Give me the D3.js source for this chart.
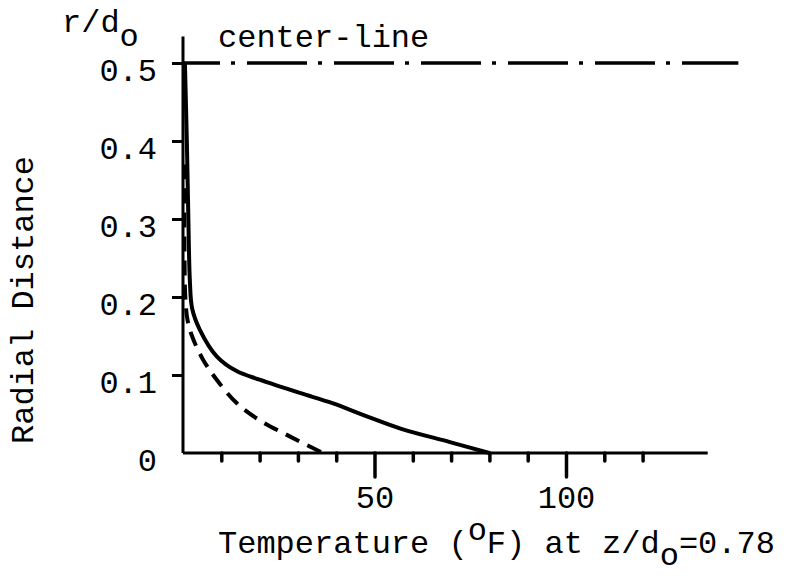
<!DOCTYPE html>
<html>
<head>
<meta charset="utf-8">
<script src="https://cdn.jsdelivr.net/npm/d3@7"></script>
<style>
  body { margin: 0; background: #fff; }
  text { font-family: "Liberation Mono", "DejaVu Sans Mono", monospace; fill: #000; }
</style>
</head>
<body>
<div id="chart"></div>
<script>
// temperature profile: radial distance r/d0 vs temperature (F)
const solidTemp   = [0.5, 1.0, 1.4, 1.8, 2.4, 4.4, 8.8, 14, 20, 30.5, 39, 48, 57, 69.7, 80];
const solidRadius = [0.5, 0.4, 0.3, 0.22, 0.185, 0.158, 0.124, 0.105, 0.094, 0.077, 0.064, 0.047, 0.031, 0.014, 0];

const dashTemp   = [0.3, 0.4, 0.6, 1.2, 2.5, 5.2, 8.8, 14, 20, 28, 36.5];
const dashRadius = [0.37, 0.25, 0.2, 0.17, 0.148, 0.12, 0.094, 0.064, 0.042, 0.021, 0];

const centerLine = 0.5;
const xMinorTicks = [10, 20, 30, 40, 60, 70, 80, 90, 110, 120];
const xMajorTicks = [50, 100];
const yTicks = [0, 0.1, 0.2, 0.3, 0.4, 0.5];

const width = 786, height = 576;
// plot box in pixels (origin of axes, 100F, 0.5 r/d0)
const margin = {left: 183, bottom: 453, top: 63};

let svg = d3.select("#chart")
  .append("svg")
    .attr("width", width)
    .attr("height", height);

let x = d3.scaleLinear()
  .domain([0, 100])
  .range([margin.left, 566]);

let y = d3.scaleLinear()
  .domain([0, 0.5])
  .range([margin.bottom, margin.top]);

/*
 * Axes
 */
// minor ticks on temperature axis
svg.append("g")
  .attr("transform", "translate(0," + y(0) + ")")
  .call(d3.axisBottom(x).tickValues(xMinorTicks).tickSize(8).tickSizeOuter(0).tickFormat(""))
  .call(g => g.select(".domain").remove())
  .selectAll("line")
    .attr("stroke", "#000")
    .attr("stroke-width", 3.5)
    .attr("stroke-linecap", "round");

// major ticks with labels
let xMajor = svg.append("g")
  .attr("transform", "translate(0," + y(0) + ")")
  .call(d3.axisBottom(x).tickValues(xMajorTicks).tickSize(24).tickSizeOuter(0).tickFormat(d3.format("d")));
xMajor.select(".domain").remove();
xMajor.selectAll("line")
  .attr("stroke", "#000")
  .attr("stroke-width", 3.5)
  .attr("stroke-linecap", "round");
xMajor.selectAll("text")
  .attr("y", 55)
  .attr("dy", 0)
  .style("font-size", "32px");

let yAxis = svg.append("g")
  .attr("transform", "translate(" + x(0) + ",0)")
  .call(d3.axisLeft(y).tickValues(yTicks).tickSize(11).tickSizeOuter(0)
        .tickFormat(d => d === 0 ? "0" : d3.format(".1f")(d)));
yAxis.select(".domain").remove();
yAxis.selectAll("line")
  .attr("stroke", "#000")
  .attr("stroke-width", 3)
  .attr("x2", -11)
  .style("opacity", d => d === 0 ? 0 : 1);
yAxis.selectAll("text")
  .attr("x", -26)
  .attr("dy", 0)
  .attr("y", 17)
  .style("font-size", "32px");

// axis lines (the vertical one runs a bit above 0.5)
svg.append("line")
  .attr("x1", x(0)).attr("x2", x(137))
  .attr("y1", y(0)).attr("y2", y(0))
  .attr("stroke", "#000").attr("stroke-width", 3);
svg.append("line")
  .attr("x1", x(0)).attr("x2", x(0))
  .attr("y1", y(0)).attr("y2", y(0.534))
  .attr("stroke", "#000").attr("stroke-width", 3);

/*
 * Curves
 */
// center-line, dash-dot
svg.append("line")
  .attr("x1", x(0)).attr("x2", x(145))
  .attr("y1", y(centerLine)).attr("y2", y(centerLine))
  .attr("stroke", "#000")
  .attr("stroke-width", 3.5)
  .attr("stroke-dasharray", "60,11,4,12")
  .attr("stroke-dashoffset", 23);

let line = d3.line()
  .x(d => x(d[0]))
  .y(d => y(d[1]))
  .curve(d3.curveCatmullRom.alpha(0.5));

svg.append("path")
  .datum(d3.zip(solidTemp, solidRadius))
  .attr("fill", "none")
  .attr("stroke", "#000")
  .attr("stroke-width", 4)
  .attr("d", line);

svg.append("path")
  .datum(d3.zip(dashTemp, dashRadius))
  .attr("fill", "none")
  .attr("stroke", "#000")
  .attr("stroke-width", 4)
  .attr("stroke-dasharray", "15,9")
  .attr("d", line);

/*
 * Labels
 */
let labelStyle = sel => sel.style("font-size", "32px");

let rLab = svg.append("text").attr("x", 62).attr("y", 32).call(labelStyle);
rLab.append("tspan").text("r/d");
rLab.append("tspan").attr("dy", 14).text("o");

svg.append("text")
  .attr("x", 218).attr("y", 47)
  .call(labelStyle)
  .text("center-line");

svg.append("text")
  .attr("transform", "translate(33,300) rotate(-90)")
  .attr("text-anchor", "middle")
  .call(labelStyle)
  .text("Radial Distance");

let xLab = svg.append("text").attr("x", 218).attr("y", 553).call(labelStyle);
xLab.append("tspan").text("Temperature (");
xLab.append("tspan").attr("dy", -13).text("o");
xLab.append("tspan").attr("dy", 13).text("F) at z/d");
xLab.append("tspan").attr("dy", 12).text("o");
xLab.append("tspan").attr("dy", -12).text("=0.78");
</script>
</body>
</html>
